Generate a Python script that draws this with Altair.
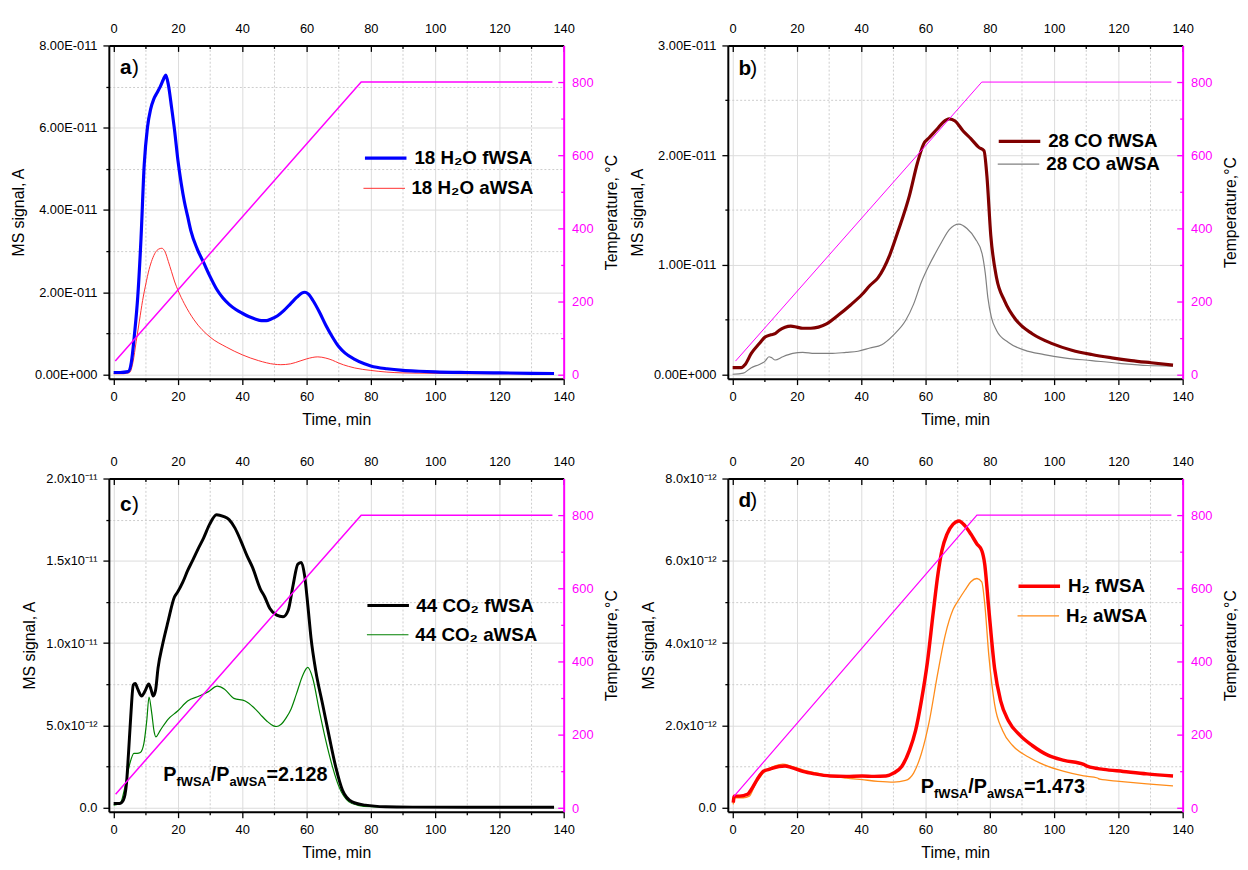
import altair as alt
import pandas as pd

FONT = "Liberation Sans"
MAG = "#FF00FF"
XDOM = [-1.5, 140]
TDOM = [-10, 900]
W, H = 460, 337

# ---------------- panel a : 18 H2O (signal in 1e-11 A) ----------------
a_f_t = [0, 2, 4.5, 5.5, 6.5, 7.5, 8.5, 9.5, 10.5, 11.5, 12.5, 13.5, 14.5, 15.5, 16.2, 17, 18, 19, 20, 21,
         22, 23, 24, 26, 28, 30, 32, 34, 36, 38, 40, 42, 44, 46, 47.5, 49, 51, 53, 55, 57,
         58.5, 59.5, 60.5, 62, 64, 66, 68, 70, 72, 75, 78, 80, 85, 90, 95, 100, 110, 120, 130, 137]
a_f_v = [0.05, 0.05, 0.07, 0.3, 1.0, 1.9, 3.3, 5.1, 6.0, 6.45, 6.7, 6.85, 7.0, 7.18, 7.28, 7.05, 6.5, 5.9, 5.2, 4.65,
         4.2, 3.85, 3.5, 3.05, 2.72, 2.38, 2.08, 1.86, 1.7, 1.58, 1.49, 1.41, 1.35, 1.31, 1.31, 1.35, 1.43, 1.56, 1.72, 1.88,
         1.98, 2.0, 1.96, 1.8, 1.52, 1.2, 0.92, 0.68, 0.52, 0.37, 0.26, 0.21, 0.14, 0.1, 0.08, 0.065, 0.05, 0.04, 0.03, 0.025]
a_a_t = [0, 3, 5, 6, 7, 8, 9, 10, 11, 12, 13, 14, 15, 16, 17, 18, 19, 20, 22, 25,
         30, 35, 40, 45, 50, 52, 55, 58, 60, 63.5, 66, 68, 70, 73, 75, 80, 85, 90, 100, 110, 120, 137]
a_a_v = [0.02, 0.02, 0.05, 0.3, 0.8, 1.3, 1.8, 2.2, 2.55, 2.8, 2.97, 3.05, 3.07, 2.98, 2.75, 2.5, 2.25, 2.05, 1.72, 1.33,
         0.91, 0.67, 0.48, 0.34, 0.25, 0.24, 0.26, 0.33, 0.38, 0.43, 0.4, 0.35, 0.28, 0.2, 0.16, 0.1, 0.06, 0.04, 0.03, 0.02, 0.02, 0.02]
a_temp_t = [0.5, 77, 136.5]
a_temp_v = [38, 800, 800]

# ---------------- panel b : 28 CO (1e-11 A) ----------------
b_f_t = [0, 2.7, 3.9, 5.8, 8.3, 10.1, 11.9, 13.2, 14.4, 16.3, 18.1, 20, 21.8, 24.3, 26.7, 29.2, 32.9, 36.6, 40.3, 42.7,
         45.2, 48.9, 51.4, 55, 57.5, 59.4, 61.2, 63.7, 65.5, 67.4, 69.2, 71.7, 74.1, 76.6, 78.2, 79.1, 80.3, 82.1, 84.6, 88.3,
         93.2, 99.4, 105.5, 111.7, 117.9, 124, 130.2, 137]
b_f_v = [0.06, 0.06, 0.09, 0.19, 0.28, 0.34, 0.36, 0.37, 0.40, 0.43, 0.44, 0.43, 0.42, 0.42, 0.43, 0.46, 0.54, 0.63, 0.73, 0.81,
         0.88, 1.09, 1.30, 1.63, 1.93, 2.10, 2.16, 2.24, 2.30, 2.33, 2.31, 2.22, 2.15, 2.07, 2.04, 1.81, 1.27, 0.88, 0.67, 0.49,
         0.37, 0.28, 0.22, 0.18, 0.15, 0.125, 0.105, 0.084]
b_a_t = [0, 3.3, 5.8, 8.3, 10.1, 11.3, 12.2, 13.2, 15.6, 18.7, 21.8, 25.5, 30.4, 35.3, 39, 42.7, 46.4, 50.1, 53.8, 56.3,
         58.7, 61.2, 63, 64.9, 67.4, 70.4, 72.9, 75.4, 77.6, 78.6, 79.4, 80.5, 82.1, 85.8, 90.8, 96.9, 103.1, 111.7, 120.3, 129, 137]
b_a_v = [0.0, 0.01, 0.06, 0.09, 0.12, 0.16, 0.15, 0.13, 0.16, 0.19, 0.20, 0.19, 0.19, 0.20, 0.21, 0.24, 0.27, 0.36, 0.49, 0.64,
         0.84, 1.0, 1.1, 1.2, 1.32, 1.37, 1.33, 1.24, 1.1, 0.92, 0.7, 0.52, 0.40, 0.29, 0.22, 0.18, 0.15, 0.125, 0.10, 0.08, 0.075]
b_temp_t = [0.9, 77.5, 136.5]
b_temp_v = [38, 800, 800]

# ---------------- panel c : 44 CO2 (1e-12 A) ----------------
c_f_t = [0, 1.8, 3, 4.0, 4.6, 5.3, 6.1, 6.7, 7.5, 8.7, 9.8, 10.9, 11.6, 12.3, 13.0, 13.8, 15.2, 16.9, 18.9, 19.9,
         21.5, 23, 24.5, 26.2, 28, 29.8, 32, 34.1, 35.9, 37.7, 39.6, 41.5, 43.2, 45.6, 47, 48.6, 50.7, 52.7, 54.3, 55.8,
         57.3, 58.4, 59.4, 60.4, 61.4, 62.9, 65, 67.1, 69.1, 71.2, 74.2, 78.3, 84.6, 93, 110, 137]
c_f_v = [0.25, 0.25, 0.45, 1.5, 3.26, 5.5, 7.45, 7.55, 7.2, 6.78, 7.1, 7.52, 7.2, 6.78, 7.1, 8.48, 9.9, 11.3, 12.8, 13.1,
         13.7, 14.4, 15.0, 15.7, 16.4, 17.2, 17.8, 17.7, 17.5, 17.0, 16.2, 15.3, 14.6, 13.3, 12.8, 12.1, 11.7, 11.6, 12.0, 13.5,
         14.8, 14.9, 14.1, 12.3, 10.3, 8.28, 6.28, 4.27, 2.46, 1.05, 0.35, 0.15, 0.05, 0.03, 0.02, 0.02]
c_a_t = [0, 2.0, 3.5, 5.0, 6.3, 7.3, 8.3, 9.4, 10.3, 11.0, 11.8, 12.6, 13.1, 14.5, 16.9, 19.9, 23, 26.6, 29.5, 32.2,
         34.5, 37.4, 40.9, 43.5, 45.6, 47.7, 49.7, 50.7, 52, 53.7, 55.2, 56.8, 58.9, 60.4, 61.9, 64, 66, 68.1, 70.1, 73.2,
         76, 80, 90, 110, 137]
c_a_v = [0.15, 0.25, 1.25, 2.66, 3.3, 3.3, 3.35, 3.9, 5.3, 6.72, 5.8, 4.6, 4.3, 4.7, 5.37, 5.87, 6.48, 6.78, 7.05, 7.38,
         7.2, 6.64, 6.48, 6.1, 5.67, 5.25, 4.97, 4.93, 5.05, 5.47, 6.0, 6.88, 8.08, 8.52, 7.88, 5.87, 4.07, 2.46, 1.26, 0.35,
         0.14, 0.06, 0.03, 0.02, 0.02]
c_temp_t = [0.6, 77, 136.5]
c_temp_v = [38, 800, 800]

# ---------------- panel d : H2 (1e-12 A) ----------------
d_f_t = [0.2, 0.5, 2.1, 4.6, 5.8, 7.6, 9.5, 11.3, 14.4, 16.3, 18.1, 21.8, 25.5, 30.4, 35.3, 40.3, 44, 47.7, 50.1, 52.6,
         55, 56.9, 58.7, 60.6, 62.4, 63.9, 65.1, 66.7, 68.6, 70.4, 72.3, 74.1, 76, 77.5, 78.4, 79.7, 81.5, 83.4, 85.8, 89.5,
         93.2, 98.2, 103.1, 109.2, 110.5, 115.4, 121.5, 128.9, 137]
d_f_v = [0.12, 0.28, 0.28, 0.32, 0.44, 0.68, 0.88, 0.93, 1.0, 1.01, 0.98, 0.88, 0.82, 0.77, 0.76, 0.77, 0.76, 0.77, 0.84, 1.0,
         1.39, 1.87, 2.59, 3.54, 4.74, 5.69, 6.25, 6.65, 6.89, 6.97, 6.85, 6.65, 6.41, 6.25, 5.93, 4.82, 3.38, 2.59, 2.11, 1.75,
         1.51, 1.27, 1.15, 1.05, 1.0, 0.93, 0.88, 0.82, 0.77]
d_a_t = [0.2, 0.5, 3.3, 5.2, 7, 9.5, 12.6, 15.6, 18.1, 21.8, 25.5, 30.4, 35.3, 40.3, 45.2, 50.1, 53.8, 56.3, 58.7, 61.2,
         63.7, 66.1, 68.6, 70.4, 72.3, 74.1, 76, 77.5, 78.4, 79.7, 81.5, 84, 87.1, 92, 96.9, 103.1, 109.2, 113.5, 114.2, 120.3,
         128.9, 137]
d_a_v = [0.08, 0.24, 0.24, 0.28, 0.56, 0.84, 1.0, 1.06, 1.01, 0.92, 0.85, 0.77, 0.72, 0.68, 0.64, 0.62, 0.66, 0.84, 1.31, 2.11,
         3.22, 4.18, 4.82, 5.06, 5.29, 5.49, 5.57, 5.49, 4.98, 3.7, 2.51, 1.87, 1.51, 1.23, 1.04, 0.88, 0.77, 0.72, 0.69, 0.64,
         0.58, 0.53]
d_temp_t = [0.4, 76, 136.5]
d_temp_v = [32, 800, 800]

names_a = ["18 H\u2082O fWSA", "18 H\u2082O aWSA"]
names_b = ["28 CO fWSA", "28 CO aWSA"]
names_c = ["44 CO\u2082 fWSA", "44 CO\u2082 aWSA"]
names_d = ["H\u2082 fWSA", "H\u2082 aWSA"]

ratio_c = "=2.128"
ratio_d = "=1.473"

X_VALUES = list(range(0, 141, 10))
T_VALUES = list(range(0, 801, 100))


def cond(test, major, minor):
    return {"condition": {"test": test, "value": major}, "value": minor}


def x_axis(orient, title):
    test = "datum.value % 20 === 0"
    kw = dict(orient=orient, values=X_VALUES,
              labelExpr=f"{test} ? datum.label : ''",
              labelFontSize=13, labelFont=FONT, labelColor="black",
              labelFlush=False, labelOverlap=False,
              domainColor="black", domainWidth=2,
              tickColor="black", tickWidth=1.3,
              tickDash=cond(test, [], [3, 10]),
              grid=(orient == "bottom"),
              gridColor=cond(test, "#dcdcdc", "#cccccc"),
              gridDash=cond(test, [], [2, 2]),
              gridWidth=1)
    if title:
        kw.update(title=title, titleFont=FONT, titleFontSize=16, titleFontWeight="normal",
                  titleColor="black", titlePadding=8, tickSize=6, labelPadding=6)
    else:
        # ticks of the top axis point into the plot, as in the reference
        kw.update(title=None, tickSize={"expr": "-6"}, labelPadding=16)
    return alt.Axis(**kw)


def y_left(values, step, label_expr):
    test = f"datum.value % {step} === 0"
    return alt.Axis(orient="left", values=values, title="MS signal, A",
                    labelExpr=f"{test} ? ({label_expr}) : ''",
                    labelFontSize=13, labelFont=FONT, labelColor="black", labelPadding=6,
                    labelOverlap=False, labelFlush=False,
                    domainColor="black", domainWidth=2,
                    tickColor="black", tickWidth=1.3, tickSize=6,
                    tickDash=cond(test, [], [3, 10]),
                    grid=True, gridColor=cond(test, "#dcdcdc", "#cccccc"),
                    gridDash=cond(test, [], [2, 2]), gridWidth=1,
                    titleFont=FONT, titleFontSize=16, titleFontWeight="normal",
                    titleColor="black", titlePadding=8)


def y_right(title):
    test = "datum.value % 200 === 0"
    return alt.Axis(orient="right", values=T_VALUES, title=title,
                    labelExpr=f"{test} ? datum.label : ''",
                    labelFontSize=13, labelFont=FONT, labelColor=MAG, labelPadding=14,
                    labelOverlap=False, labelFlush=False,
                    domainColor=MAG, domainWidth=2,
                    tickColor=MAG, tickWidth=1.3, tickSize={"expr": "-6"},
                    tickDash=cond(test, [], [3, 10]),
                    grid=False,
                    titleFont=FONT, titleFontSize=16, titleFontWeight="normal",
                    titleColor="black", titlePadding=11, titleAngle=270, titleBaseline="top")


def legend(x, y, width):
    return alt.Legend(title=None, orient="none", legendX=x, legendY=y,
                      symbolType="stroke", symbolSize=1764, symbolStrokeWidth=width,
                      labelFont=FONT, labelFontSize=19, labelFontWeight="bold",
                      labelColor="black", labelOffset=6, padding=0, labelLimit=400)


def text_layer(df, ydom, size, weight, dx=0, dy=0):
    return alt.Chart(df).mark_text(align="left", baseline="middle", font=FONT, fontSize=size,
                                   fontWeight=weight, dx=dx, dy=dy, color="black").encode(
        x=alt.X("t:Q", scale=alt.Scale(domain=XDOM, nice=False, zero=False), axis=None),
        y=alt.Y("s:Q", scale=alt.Scale(domain=ydom, nice=False, zero=False), axis=None),
        text="label:N")


def make_panel(f_t, f_v, a_t, a_v, names, colors, widths, ydom, yvals, ystep, ylabel_expr,
               temp_t, temp_v, temp_w, temp_title, letter, letter_pos, leg_x, leg_y1, leg_y2, ratio=None):
    xs = alt.Scale(domain=XDOM, nice=False, zero=False)
    ys = alt.Scale(domain=ydom, nice=False, zero=False)
    adf = pd.DataFrame({"t": a_t, "s": a_v, "series": [names[1]] * len(a_t)})
    fdf = pd.DataFrame({"t": f_t, "s": f_v, "series": [names[0]] * len(f_t)})
    line_a = alt.Chart(adf).mark_line(interpolate="monotone", strokeWidth=widths[1]).encode(
        x=alt.X("t:Q", scale=xs, axis=x_axis("bottom", "Time, min")),
        y=alt.Y("s:Q", scale=ys, axis=y_left(yvals, ystep, ylabel_expr)),
        color=alt.Color("series:N", scale=alt.Scale(domain=[names[1]], range=[colors[1]]),
                        legend=legend(leg_x, leg_y2, widths[1])),
    )
    line_f = alt.Chart(fdf).mark_line(interpolate="monotone", strokeWidth=widths[0]).encode(
        x=alt.X("t:Q", scale=xs, axis=None),
        y=alt.Y("s:Q", scale=ys, axis=None),
        color=alt.Color("series:N", scale=alt.Scale(domain=[names[0]], range=[colors[0]]),
                        legend=legend(leg_x, leg_y1, widths[0])),
    )
    tdf = pd.DataFrame({"t": temp_t, "T": temp_v})
    temp = alt.Chart(tdf).mark_line(color=MAG, strokeWidth=temp_w).encode(
        x=alt.X("t:Q", scale=xs, axis=x_axis("top", None)),
        y=alt.Y("T:Q", scale=alt.Scale(domain=TDOM, nice=False, zero=False), axis=y_right(temp_title)),
    )
    layers = [line_a, line_f, temp]
    ldf1 = pd.DataFrame({"t": [letter_pos[0]], "s": [letter_pos[1]], "label": [letter]})
    ldf2 = pd.DataFrame({"t": [letter_pos[0]], "s": [letter_pos[1]], "label": [")"]})
    layers.append(text_layer(ldf1, ydom, 21, "bold"))
    layers.append(text_layer(ldf2, ydom, 21, "normal", dx=12))
    if ratio is not None:
        rt, rs, rval = ratio
        parts = [("P", 0, 0, 20), ("fWSA", 13.5, 7, 13), ("/P", 48, 0, 20), ("aWSA", 67, 7, 13), (rval, 104.5, 0, 20)]
        for txt, dx, dy, size in parts:
            pdf = pd.DataFrame({"t": [rt], "s": [rs], "label": [txt]})
            layers.append(text_layer(pdf, ydom, size, "bold", dx=dx, dy=dy))
    return alt.layer(*layers).resolve_scale(y="independent", color="independent").resolve_axis(
        x="independent", y="independent").resolve_legend(color="independent").properties(width=W, height=H)


expr_e11 = "datum.value === 0 ? '0.00E+000' : format(datum.value, '.2f') + 'E-011'"
expr_c = ("datum.value === 0 ? '0.0' : (datum.value < 10 ? format(datum.value, '.1f') + 'x10\u207b\u00b9\u00b2' "
          ": format(datum.value / 10, '.1f') + 'x10\u207b\u00b9\u00b9')")
expr_d = "datum.value === 0 ? '0.0' : format(datum.value, '.1f') + 'x10\u207b\u00b9\u00b2'"

pa = make_panel(a_f_t, a_f_v, a_a_t, a_a_v, names_a, ["#0000FF", "#FF3030"], [3.2, 1.0],
                [-0.1, 8], list(range(0, 9)), 2, expr_e11, a_temp_t, a_temp_v, 1.5, "Temperature, \u00b0C",
                "a", (2.0, 7.45), 257, 91, 123)
pb = make_panel(b_f_t, b_f_v, b_a_t, b_a_v, names_b, ["#800000", "#808080"], [3.2, 1.2],
                [-0.04, 3], [x * 0.5 for x in range(0, 7)], 1, expr_e11, b_temp_t, b_temp_v, 1.0, "Temperature,\u00b0C",
                "b", (1.8, 2.78), 272, 74, 98)
pc = make_panel(c_f_t, c_f_v, c_a_t, c_a_v, names_c, ["#000000", "#008000"], [3.0, 1.2],
                [-0.25, 20], [x * 2.5 for x in range(0, 9)], 5, expr_c, c_temp_t, c_temp_v, 1.5, "Temperature,\u00b0C",
                "c", (2.0, 18.4), 260, 106, 136, ratio=(15.4, 2.0, ratio_c))
pd_ = make_panel(d_f_t, d_f_v, d_a_t, d_a_v, names_d, ["#FF0000", "#FF8C1A"], [3.5, 1.3],
                 [-0.1, 8], list(range(0, 9)), 2, expr_d, d_temp_t, d_temp_v, 1.2, "Temperature,\u00b0C",
                 "d", (1.8, 7.45), 292, 86, 117, ratio=(58.5, 0.5, ratio_d))

chart = alt.concat(pa, pb, pc, pd_, columns=2, spacing={"row": 101, "column": 166},
                   bounds="flush").properties(
    padding={"left": 2, "top": 9, "right": 0, "bottom": 0}
).configure_view(stroke=None).configure(font=FONT)

chart.save("out.html", embed_options={"renderer": "svg", "actions": False})
